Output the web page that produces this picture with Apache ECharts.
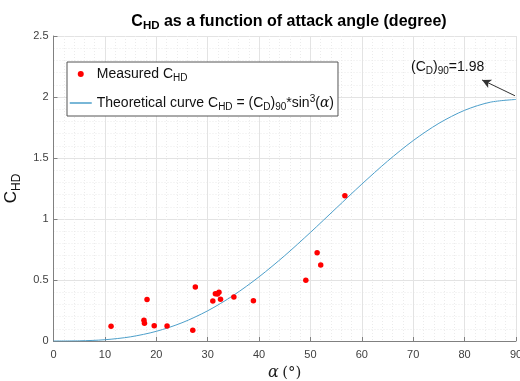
<!DOCTYPE html>
<html><head><meta charset="utf-8">
<script src="https://cdn.jsdelivr.net/npm/echarts@6/dist/echarts.min.js"></script>
<style>html,body{margin:0;padding:0;background:#fff}#c{width:520px;height:381px}</style>
</head><body><div id="c"></div>
<script>
// Measured data (angle in degrees, C_HD)
var measuredAngle = [11.2, 17.6, 17.7, 18.2, 19.6, 22.1, 27.1, 27.6, 31.0, 31.5, 31.9, 32.2, 32.5, 35.1, 38.9, 49.1, 51.3, 52.0, 56.7];
var measuredCHD   = [0.12, 0.17, 0.145, 0.34, 0.125, 0.123, 0.088, 0.443, 0.328, 0.388, 0.385, 0.40, 0.342, 0.36, 0.33, 0.497, 0.724, 0.623, 1.19];
// Theoretical curve values
var curveAngle = [0, 5, 10, 15, 20, 25, 30, 35, 40, 45, 50, 55, 60, 65, 70, 75, 80, 85, 90];
var curveCHD   = [0, 0.0013, 0.0104, 0.0343, 0.0792, 0.1495, 0.2475, 0.3736, 0.5259, 0.7000, 0.8901, 1.0883, 1.2860, 1.4740, 1.6429, 1.7844, 1.8911, 1.9574, 1.98];
var xTicks = [0, 10, 20, 30, 40, 50, 60, 70, 80, 90];
var yTicks = [0, 0.5, 1, 1.5, 2, 2.5];
var annotationText = ['C', 'D', '90', '=1.98'];
var arrowFrom = [89.8, 2.01];
var arrowTo = [83.4, 2.14];
var labelAt = [76.7, 2.245];

var FONT = '"Liberation Sans", Arial, sans-serif';
var pts = measuredAngle.map(function (a, i) { return [a, measuredCHD[i]]; });
var line = curveAngle.map(function (a, i) { return [a, curveCHD[i]]; });

var chart = echarts.init(document.getElementById('c'), null, {renderer: 'canvas'});
var axisCommon = {
  axisLine: {show: true, onZero: false, lineStyle: {color: '#808080', width: 1}},
  axisTick: {show: true, inside: true, length: 4, lineStyle: {color: '#808080'}},
  axisLabel: {color: '#404040', fontSize: 11, fontFamily: FONT},
  splitLine: {show: true, lineStyle: {color: '#e3e3e3', width: 1}},
  minorTick: {show: false, splitNumber: 5},
  minorSplitLine: {show: true, lineStyle: {color: '#ebebeb', type: [1, 2], width: 1}}
};
var subStyle = {fontSize: 10, fontFamily: FONT, color: '#111', padding: [8, 0, 0, 0]};
var supStyle = {fontSize: 10, fontFamily: FONT, color: '#111', padding: [0, 0, 8, 0]};
chart.setOption({
  animation: false,
  backgroundColor: '#fff',
  title: {
    text: '{b|C}{bs|HD}{b| as a function of attack angle (degree)}',
    left: 284, top: 6, textAlign: 'center',
    textStyle: {rich: {
      b: {fontSize: 16, fontWeight: 'bold', fontFamily: FONT, color: '#000'},
      bs: {fontSize: 11.5, fontWeight: 'bold', fontFamily: FONT, color: '#000', padding: [9, 0, 0, 0]}
    }}
  },
  grid: {left: 53.5, right: 4, top: 36, bottom: 40, containLabel: false, outerBoundsMode: 'none'},
  xAxis: Object.assign({}, axisCommon, {
    type: 'value', min: xTicks[0], max: xTicks[xTicks.length - 1], interval: xTicks[1] - xTicks[0],
    name: '{a|α} {n|(°)}', nameLocation: 'middle', nameGap: 20,
    nameTextStyle: {rich: {
      a: {fontSize: 16, fontStyle: 'italic', fontFamily: '"DejaVu Serif", serif', color: '#222'},
      n: {fontSize: 15, fontFamily: '"DejaVu Serif", serif', color: '#222'}
    }},
    axisLabel: Object.assign({}, axisCommon.axisLabel, {margin: 8})
  }),
  yAxis: Object.assign({}, axisCommon, {
    type: 'value', min: yTicks[0], max: yTicks[yTicks.length - 1], interval: yTicks[1] - yTicks[0],
    name: '{c|C}{s|HD}', nameLocation: 'middle', nameGap: 21, nameRotate: 90,
    nameTextStyle: {rich: {
      c: {fontSize: 17, fontFamily: FONT, color: '#111'},
      s: {fontSize: 12, fontFamily: FONT, color: '#111', padding: [9, 0, 0, 0]}
    }},
    axisLabel: Object.assign({}, axisCommon.axisLabel, {margin: 5})
  }),
  legend: {
    orient: 'vertical', left: 67, top: 62,
    backgroundColor: '#fff', borderColor: '#555', borderWidth: 1,
    padding: [5, 4, 4, 2], itemGap: 11, itemWidth: 22, itemHeight: 6,
    data: [
      {name: 'Measured', icon: 'circle'},
      {name: 'Theoretical', itemStyle: {opacity: 0}, lineStyle: {color: '#4d9fca', width: 1.5}}
    ],
    formatter: function (n) {
      if (n === 'Measured') return '{t|Measured C}{s|HD}';
      return '{t|Theoretical curve C}{s|HD}{t| = (C}{s|D}{t|)}{s|90}{t|*sin}{p|3}{t|(}{a|α}{t|)}';
    },
    textStyle: {fontSize: 14, fontFamily: FONT, color: '#111', rich: {
      t: {fontSize: 14, fontFamily: FONT, color: '#111'},
      s: subStyle, p: supStyle,
      a: {fontSize: 14, fontStyle: 'italic', fontFamily: '"DejaVu Serif", serif', color: '#111'}
    }}
  },
  series: [
    {
      name: 'Measured', type: 'scatter', data: pts, symbol: 'circle', symbolSize: 5.5,
      itemStyle: {color: '#ff0000', opacity: 1}, z: 3
    },
    {
      name: 'Theoretical', type: 'line', data: line, symbol: 'none', smooth: 0.3,
      lineStyle: {color: '#4d9fca', width: 1}, itemStyle: {color: '#4d9fca'}, z: 2,
      markLine: {
        silent: true, symbol: ['none', 'arrow'], symbolSize: [7, 9],
        lineStyle: {color: '#333', width: 1, type: 'solid'}, label: {show: false},
        data: [[{coord: arrowFrom}, {coord: arrowTo}]]
      },
      markPoint: {
        silent: true, symbol: 'circle', symbolSize: 0,
        label: {
          show: true, position: 'inside',
          formatter: '{t|(' + annotationText[0] + '}{s|' + annotationText[1] + '}{t|)}{s|' + annotationText[2] + '}{t|' + annotationText[3] + '}',
          rich: {t: {fontSize: 14, fontFamily: FONT, color: '#111'}, s: subStyle}
        },
        data: [{coord: labelAt}]
      }
    }
  ]
});
</script></body></html>
